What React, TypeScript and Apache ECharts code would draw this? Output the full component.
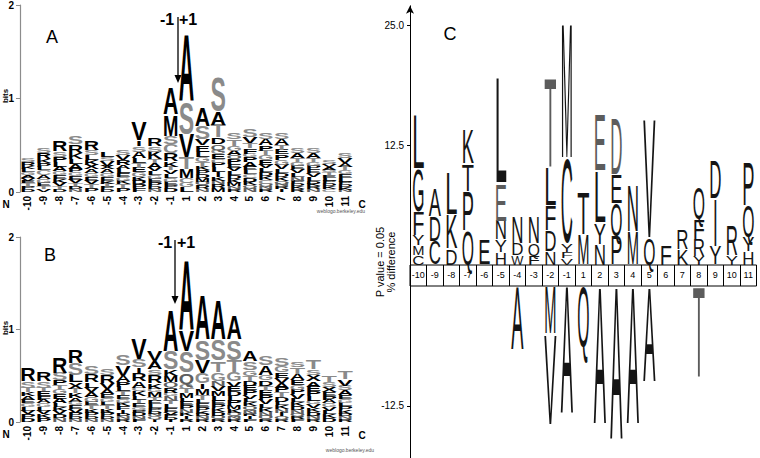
import React, { useEffect, useRef } from "react";
import * as echarts from "echarts";

// Position labels (21 columns, no 0)
const positions = ["-10", "-9", "-8", "-7", "-6", "-5", "-4", "-3", "-2", "-1", "1", "2", "3", "4", "5", "6", "7", "8", "9", "10", "11"];

// Panel A sequence logo: per column, letters top -> bottom with heights in bits
const logoA = [
  "S.04 R.04 K.03 L.04 G.03 A.03 V.03 E.03 T.03 P.03 D.03",
  "S.06 R.07 K.04 P.04 L.04 C.05 A.04 G.04 E.04 T.03 V.03",
  "R.11 S.06 P.05 L.05 A.05 G.04 E.04 K.04 V.04 T.03 D.03",
  "S.08 R.09 K.07 L.05 A.05 P.04 G.04 E.04 V.04 T.03 D.03 N.03",
  "R.10 S.06 L.05 K.05 X.05 A.04 G.04 E.04 V.04 T.04 P.04",
  "L.06 S.04 V.05 X.04 A.04 G.04 E.04 K.03 T.03 P.03 D.03",
  "S.06 V.06 R.05 A.04 L.05 E.04 G.04 K.04 T.04 P.04",
  "V.20 I.06 S.06 A.07 L.05 T.05 E.05 G.05 K.04 D.04 P.04 F.04",
  "R.09 S.06 K.08 T.04 A.05 V.04 L.04 G.04 E.04 P.04 D.03 N.03",
  "A.28 M.23 S.09 C.10 R.08 K.06 T.04 V.04 L.04 G.04 E.04 P.03 D.04",
  "A.73 S.34 V.25 T.12 M.10 C.05 G.05 L.05",
  "A.20 S.14 V.07 E.07 L.06 G.05 T.05 K.04 P.04 D.04 M.04 Q.04 R.04 N.03",
  "S.37 A.14 T.14 D.07 Q.06 G.05 E.05 C.04 P.05 L.05 I.05 K.04 N.04 R.04 M.04",
  "S.07 T.07 G.05 A.05 Q.04 P.05 E.04 V.04 L.04 D.04 K.04 M.04 N.03 R.03",
  "S.08 V.07 T.05 F.06 G.04 P.05 A.05 E.04 L.04 C.04 D.04 K.04 Q.03 N.04",
  "S.07 A.07 P.06 T.05 G.05 E.05 V.04 L.04 D.04 K.04 C.04 Q.03 N.03 R.03",
  "S.07 A.07 T.05 E.05 P.06 G.05 V.05 L.04 D.04 K.04 Q.03 N.03 R.03 I.03",
  "S.05 A.05 T.04 G.04 E.04 V.04 L.04 N.04 P.03 D.03 K.03 R.03",
  "S.05 A.05 T.04 G.04 P.04 E.04 V.04 L.04 D.03 K.03 R.03 N.03",
  "S.04 V.03 A.03 G.03 T.03 E.03 L.03 P.03 D.03 K.03 C.03",
  "S.05 V.05 A.04 T.04 G.04 E.04 L.04 P.03 D.03 K.03 N.02",
];

// Panel B sequence logo
const logoB = [
  "R.14 S.07 T.05 K.04 A.04 E.04 G.04 L.04 V.04 P.04 D.04",
  "R.10 S.07 T.04 E.05 F.04 A.04 G.04 L.04 V.04 K.04 P.04",
  "R.17 S.08 P.05 T.05 G.05 E.05 A.05 L.04 K.04 V.04 D.04 N.04",
  "R.14 S.13 L.08 X.07 T.05 K.05 A.04 G.04 E.04 V.04 P.04 D.03 N.03",
  "S.09 R.09 L.06 V.05 A.05 G.05 E.04 T.04 K.04 P.04 D.03 N.03",
  "S.07 R.09 V.07 A.05 E.04 G.04 L.04 T.04 K.04 P.04 D.03 N.03",
  "S.12 V.12 A.07 P.05 L.05 T.04 E.04 G.04 K.04 F.04 I.04 D.03 N.03 R.03",
  "V.23 S.08 I.07 R.08 A.07 C.04 K.05 L.04 T.04 E.04 G.03 P.03 D.04 N.03 F.03",
  "V.11 A.09 S.06 R.09 K.06 G.04 M.05 T.04 E.04 L.04 P.03 D.03 N.03 Q.03 I.03",
  "A.45 S.20 K.07 M.07 Q.05 R.06 G.04 N.05 T.04 L.04 E.04 V.03 P.03 D.03 I.02",
  "A.76 V.23 S.23 Q.12 G.05 T.05 M.05 L.04 E.04 P.04 N.04 K.04 I.03 R.03",
  "A.49 S.22 V.14 G.11 I.06 M.07 T.05 L.04 E.04 P.04 K.03 D.03 N.03 R.03",
  "A.43 S.23 T.12 G.09 N.06 V.06 M.05 L.05 E.04 P.04 K.04 D.04 Q.04 R.03",
  "A.25 S.22 T.13 G.10 V.06 E.05 D.05 L.05 P.05 M.04 K.04 Q.04 N.03 R.03",
  "A.11 S.09 G.06 T.06 D.05 E.05 P.05 V.04 L.04 K.04 Q.04 N.04 R.03 I.03 F.03",
  "S.10 A.10 G.06 D.06 T.05 E.05 P.05 V.05 L.04 K.04 N.04 Q.04 R.03",
  "S.09 G.07 E.06 V.06 A.05 P.05 T.05 D.05 L.04 K.04 N.04 I.04 Q.03 R.03",
  "S.06 T.07 A.07 E.05 G.05 P.05 V.05 L.04 K.04 D.04 N.04 Q.03 R.03 F.03",
  "T.10 S.06 X.07 A.06 E.05 P.05 L.05 G.04 V.04 K.04 D.04 N.04 R.03",
  "T.07 S.05 X.06 E.04 P.04 A.04 G.04 V.04 L.04 K.04 D.04",
  "T.08 V.07 S.05 A.05 E.04 G.04 L.04 P.04 K.04 D.03 N.03 R.03",
];

// Panel C (iceLogo): over-represented residues, top -> bottom, % difference
const iceUp = [
  "L5.6 G4.4 F2.5 Y1.1 M1.0 C1.0",
  "A2.9 D2.6 C2.5",
  "L4.4 K3.6 D1.7",
  "K3.6 T2.8 P4.1 Q3.6",
  "E2.6",
  "L11.2 E3.8 N2.0 Y1.3 H1.3",
  "N2.8 D1.2 W1.0",
  "N2.8 Q1.3 F0.9",
  "T9.4 L4.0 F2.6 D2.2 N1.4",
  "M14.2 C8.8 Y0.8 F0.7 V0.7",
  "T4.4 M3.2",
  "E6.0 L5.4 Y2.2 N2.2",
  "D6.0 E3.0 Q3.4 P3.0",
  "N4.8 M3.5",
  "V12.6 Q2.8",
  "F2.1",
  "R2.0 K1.6",
  "Q3.3 F2.0 R1.8 Y0.9",
  "D4.0 I5.0 Y1.9",
  "R3.2 Y1.0",
  "P4.5 Q3.3 Y1.5 H1.4",
];

// Panel C: under-represented residues, from the axis downward, % difference
const iceDown = ["", "", "", "", "", "", "A6.7", "", "M5.0 V9.5", "A13.5", "Q6.4", "A14.5", "A16.2", "A14.5", "A10.0", "", "", "T9.5", "", "", ""];

const iceGreyKeys = new Set(["-5:E", "-2:T", "2:E", "3:D", "8:T"]);

const ADV_BOLD: Record<string, number> = { A: .722, C: .722, D: .722, E: .667, F: .611, G: .778, H: .722, I: .72, K: .722, L: .611, M: .833, N: .722, P: .667, Q: .778, R: .722, S: .667, T: .611, V: .667, W: .944, X: .667, Y: .667 };
const ADV_REG: Record<string, number> = { A: .667, C: .722, D: .722, E: .667, F: .611, G: .778, H: .722, I: .72, K: .667, L: .556, M: .833, N: .722, P: .667, Q: .778, R: .722, S: .667, T: .611, V: .667, W: .944, X: .667, Y: .667 };

type Stack = { data: number[][]; letters: string[]; pos: string[] };

function buildStacks(cols: string[], sign: number, topDown: boolean): Stack {
  const data: number[][] = [];
  const letters: string[] = [];
  const pos: string[] = [];
  cols.forEach((s, xi) => {
    const toks = s.trim() ? s.trim().split(/\s+/) : [];
    const order = topDown ? toks.slice().reverse() : toks;
    let acc = 0;
    for (const t of order) {
      const L = t[0];
      const v = parseFloat(t.slice(1));
      data.push([xi, sign * acc, sign * (acc + v)]);
      letters.push(L);
      pos.push(positions[xi]);
      acc += v;
    }
  });
  return { data, letters, pos };
}

const FS = 100;
const CAP = 0.716;

function makeRender(st: Stack, bold: boolean, widthFrac: number, colorFn: (L: string, i: number) => string) {
  const adv = bold ? ADV_BOLD : ADV_REG;
  return (params: any, api: any) => {
    const i = params.dataIndex;
    const L = st.letters[i];
    const xv = api.value(0);
    const p0 = api.coord([xv, api.value(1)]);
    const p1 = api.coord([xv, api.value(2)]);
    const h = Math.abs(p1[1] - p0[1]);
    const band = api.size([1, 0])[0];
    const a = adv[L] || 0.7;
    return {
      type: "text",
      x: p0[0],
      y: (p0[1] + p1[1]) / 2,
      scaleX: (band * widthFrac) / (a * FS),
      scaleY: h / (CAP * FS),
      style: {
        text: L,
        x: 0,
        y: 0,
        fill: colorFn(L, i),
        fontSize: FS,
        fontFamily: "Liberation Sans, Arial, sans-serif",
        fontWeight: bold ? "bold" : "normal",
        align: "center",
        verticalAlign: "middle",
        textAlign: "center",
        textVerticalAlign: "middle",
      },
    };
  };
}

const logoColor = (L: string) => {
  if ("STGCY".includes(L)) return "#8a8a8a";
  if ("NQ".includes(L)) return "#5e5e5e";
  return "#000";
};

export default function App() {
  const ref = useRef<HTMLDivElement>(null);
  useEffect(() => {
    document.body.style.margin = "0";
    if (!ref.current) return;
    const chart = echarts.init(ref.current, undefined, { renderer: "svg" });

    const stA = buildStacks(logoA, 1, true);
    const stB = buildStacks(logoB, 1, true);
    const stUp = buildStacks(iceUp, 1, true);
    const stDown = buildStacks(iceDown, -1, false);

    const iceColor = (st: Stack) => (L: string, i: number) => (iceGreyKeys.has(st.pos[i] + ":" + L) ? "#5c5c5c" : "#151515");

    const font = "Liberation Sans, Arial, sans-serif";

    const logoXAxis = (gi: number) => ({
      type: "category",
      gridIndex: gi,
      data: positions,
      boundaryGap: true,
      axisLine: { show: false },
      axisTick: { show: false },
      axisLabel: { rotate: 90, interval: 0, margin: 4, fontSize: 10, fontWeight: "bold", color: "#000", fontFamily: font },
    });
    const logoYAxis = (gi: number) => ({
      type: "value",
      gridIndex: gi,
      min: 0,
      max: 2,
      interval: 1,
      axisLine: { show: true, lineStyle: { color: "#8c8c8c", width: 1.2 } },
      axisTick: { show: true, length: 4, lineStyle: { color: "#8c8c8c" } },
      axisLabel: { margin: 6, fontSize: 10, fontWeight: "bold", color: "#000", fontFamily: font },
      splitLine: { show: false },
    });
    const hiddenX = (gi: number) => ({ type: "category", gridIndex: gi, data: positions, boundaryGap: true, show: false });

    const txt = (text: string, x: number, y: number, size: number, extra: any = {}, styleExtra: any = {}) => ({
      type: "text",
      x,
      y,
      ...extra,
      style: {
        text,
        x: 0,
        y: 0,
        fill: "#000",
        fontSize: size,
        fontFamily: font,
        textAlign: "center",
        textVerticalAlign: "middle",
        align: "center",
        verticalAlign: "middle",
        ...styleExtra,
      },
    });

    const arrow = (x: number, y1: number, y2: number) => [
      { type: "line", shape: { x1: x, y1, x2: x, y2: y2 - 6 }, style: { stroke: "#000", lineWidth: 1.3 } },
      { type: "polygon", shape: { points: [[x - 3.5, y2 - 8], [x + 3.5, y2 - 8], [x, y2]] }, style: { fill: "#000" } },
    ];

    const option: any = {
      animation: false,
      backgroundColor: "#fff",
      grid: [
        { left: 20, top: 5, width: 333, height: 187 },
        { left: 20, top: 237, width: 333, height: 185 },
        { left: 410, top: 5.8, width: 346.5, height: 259.2 },
        { left: 410, top: 265, width: 346.5, height: 21, show: true, borderColor: "#000", borderWidth: 1, backgroundColor: "transparent" },
        { left: 410, top: 286, width: 346.5, height: 172 },
      ],
      xAxis: [
        logoXAxis(0),
        logoXAxis(1),
        hiddenX(2),
        {
          type: "category",
          gridIndex: 3,
          data: positions,
          boundaryGap: true,
          position: "top",
          axisLine: { show: false },
          axisTick: { show: false },
          splitLine: { show: true, interval: 0, lineStyle: { color: "#000", width: 1 } },
          axisLabel: { inside: true, interval: 0, margin: 5, fontSize: 9, color: "#000", fontFamily: "Liberation Sans Narrow, Liberation Sans, Arial, sans-serif" },
        },
        hiddenX(4),
      ],
      yAxis: [
        logoYAxis(0),
        logoYAxis(1),
        {
          type: "value",
          gridIndex: 2,
          min: 0,
          max: 27,
          interval: 12.5,
          axisLine: { show: true, symbol: ["none", "arrow"], symbolSize: [6, 8], lineStyle: { color: "#000", width: 1 } },
          axisTick: { show: true, length: 3, customValues: [12.5, 25], lineStyle: { color: "#000" } },
          axisLabel: {
            customValues: [12.5, 25],
            margin: 6,
            fontSize: 10,
            color: "#000",
            fontFamily: "Liberation Sans Narrow, Liberation Sans, Arial, sans-serif",
            formatter: (v: number) => v.toFixed(1),
          },
          splitLine: { show: false },
        },
        { type: "value", gridIndex: 3, min: 0, max: 1, show: false },
        {
          type: "value",
          gridIndex: 4,
          min: -17.92,
          max: 0,
          interval: 12.5,
          axisLine: { show: true, lineStyle: { color: "#000", width: 1 } },
          axisTick: { show: true, length: 3, customValues: [-12.5], lineStyle: { color: "#000" } },
          axisLabel: {
            customValues: [-12.5],
            margin: 6,
            fontSize: 10,
            color: "#000",
            fontFamily: "Liberation Sans Narrow, Liberation Sans, Arial, sans-serif",
            formatter: (v: number) => v.toFixed(1),
          },
          splitLine: { show: false },
        },
      ],
      series: [
        { type: "custom", xAxisIndex: 0, yAxisIndex: 0, data: stA.data, clip: false, silent: true, renderItem: makeRender(stA, true, 0.97, (L) => logoColor(L)) },
        { type: "custom", xAxisIndex: 1, yAxisIndex: 1, data: stB.data, clip: false, silent: true, renderItem: makeRender(stB, true, 0.97, (L) => logoColor(L)) },
        { type: "custom", xAxisIndex: 2, yAxisIndex: 2, data: stUp.data, clip: false, silent: true, renderItem: makeRender(stUp, false, 0.74, iceColor(stUp)) },
        { type: "custom", xAxisIndex: 4, yAxisIndex: 4, data: stDown.data, clip: false, silent: true, renderItem: makeRender(stDown, false, 0.74, iceColor(stDown)) },
      ],
      graphic: [
        txt("A", 52, 37, 18),
        txt("B", 50, 255, 18),
        txt("C", 450, 34, 18),
        txt("-1", 167, 19, 16, {}, { fontWeight: "bold" }),
        txt("+1", 188, 19, 16, {}, { fontWeight: "bold" }),
        txt("-1", 165, 242, 16, {}, { fontWeight: "bold" }),
        txt("+1", 186, 242, 16, {}, { fontWeight: "bold" }),
        ...arrow(178, 17, 83),
        ...arrow(175, 240, 304),
        txt("bits", 5, 96, 8, { rotation: Math.PI / 2 }, { fontWeight: "bold" }),
        txt("bits", 5, 328, 8, { rotation: Math.PI / 2 }, { fontWeight: "bold" }),
        txt("N", 6, 204, 10, {}, { fontWeight: "bold" }),
        txt("C", 362, 204, 10, {}, { fontWeight: "bold" }),
        txt("N", 6, 434, 10, {}, { fontWeight: "bold" }),
        txt("C", 362, 435, 10, {}, { fontWeight: "bold" }),
        txt("weblogo.berkeley.edu", 341, 211, 5, {}, { fill: "#555" }),
        txt("weblogo.berkeley.edu", 350, 450, 5, {}, { fill: "#555" }),
        txt("P value = 0.05", 380, 262, 11, { rotation: Math.PI / 2 }),
        txt("% difference", 391, 262, 11, { rotation: Math.PI / 2 }),
      ],
    };

    chart.setOption(option);
    return () => chart.dispose();
  }, []);

  return <div ref={ref} style={{ width: 760, height: 458 }} />;
}
